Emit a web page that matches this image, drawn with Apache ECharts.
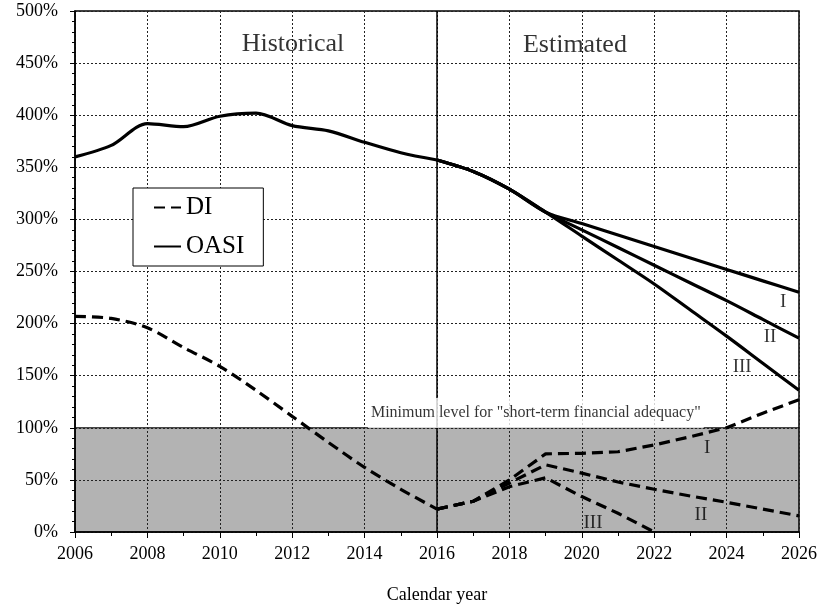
<!DOCTYPE html>
<html>
<head>
<meta charset="utf-8">
<script src="https://cdn.jsdelivr.net/npm/echarts@6/dist/echarts.min.js"></script>
<style>
  html, body { margin: 0; background: #fff; }
  #chart { width: 817px; height: 609px; }
</style>
</head>
<body>
<div id="chart"></div>
<script>
// Values (percent of a year's cost)
const histYears = [2006, 2007, 2008, 2009, 2010, 2011, 2012, 2013, 2014, 2015, 2016]
const oasiHist = [360, 371, 392, 389, 399, 402, 390, 385, 374, 364, 357]
const diHist = [207, 205, 196, 177, 159, 136, 111, 86, 62, 41, 22]

const projYears = [2016, 2017, 2018, 2019, 2020, 2021, 2022, 2023, 2024, 2025, 2026]
const oasiI = [357, 346, 329, 307, 296, 285, 274, 263, 252, 241, 230]
const oasiII = [357, 346, 329, 307, 290, 273, 256, 239, 222, 204, 186]
const oasiIII = [357, 346, 329, 307, 284, 261, 238, 213, 188, 162, 136]
const diI = [22, 29.5, 50, 75, 75.5, 77, 83.5, 91.5, 100, 114, 127]
const diII = [22, 29.5, 47, 64.5, 56.5, 48, 41, 34.5, 28.5, 22, 15.5]
const diIII = [22, 29.5, 43.5, 52, 34, 18, 0]

const minimumLevel = 100
const xTicks = { min: 2006, max: 2026, step: 2 }
const yTicks = { min: 0, max: 500, step: 50 }

const FONT = "Liberation Serif"
const pairs = (years, values) => values.map((v, i) => [years[i], v])

const oasiLine = { color: "#000", width: 3.2, type: "solid" }
const diLine = { color: "#000", width: 3.2, type: [11, 6] }

function lineSeries(name, data, lineStyle, smooth) {
  return {
    name, type: "line", data, smooth, symbol: "none",
    lineStyle, itemStyle: { color: "#000" }, z: 3, silent: true
  }
}

function note(text, x, y, size, extra = {}) {
  return {
    value: [x, y],
    label: Object.assign({
      show: true, position: "inside", formatter: text,
      color: "#000", fontFamily: FONT, fontSize: size
    }, extra)
  }
}

const chart = echarts.init(document.getElementById("chart"), null, { renderer: "canvas" })

chart.setOption({
  animation: false,
  backgroundColor: "#fff",
  grid: {
    left: 75, right: 18, top: 11, bottom: 77,
    outerBoundsMode: "none", containLabel: false,
    show: true, borderColor: "#000", borderWidth: 1.5
  },
  legend: {
    data: ["DI", "OASI"],
    orient: "vertical",
    left: 133, top: 188,
    padding: [7, 19, 7, 20],
    itemGap: 14,
    itemWidth: 27, itemHeight: 14,
    itemTextGap: 4,
    itemStyle: { opacity: 0 },
    backgroundColor: "#fff",
    borderColor: "#000", borderWidth: 1,
    textStyle: { fontFamily: FONT, fontSize: 25, color: "#000" },
    selectedMode: false
  },
  xAxis: {
    type: "value",
    min: xTicks.min, max: xTicks.max, interval: xTicks.step,
    name: "Calendar year", nameLocation: "middle", nameGap: 54,
    nameTextStyle: { fontFamily: FONT, fontSize: 18, color: "#000" },
    axisLine: { show: true, lineStyle: { color: "#000", width: 1.5 } },
    axisTick: { show: true, length: 6, lineStyle: { color: "#000" } },
    minorTick: { show: true, splitNumber: 2, length: 4, lineStyle: { color: "#000" } },
    axisLabel: { fontFamily: FONT, fontSize: 18, color: "#000", margin: 13, formatter: (v) => String(v) },
    splitLine: { show: true, lineStyle: { color: "#222", width: 1, type: [2, 2] } }
  },
  yAxis: {
    type: "value",
    min: yTicks.min, max: yTicks.max, interval: yTicks.step,
    axisLine: { show: true, lineStyle: { color: "#000", width: 1.5 } },
    axisTick: { show: true, length: 5, lineStyle: { color: "#000" } },
    minorTick: { show: true, splitNumber: 5, length: 3, lineStyle: { color: "#000" } },
    axisLabel: { fontFamily: FONT, fontSize: 18, color: "#000", margin: 17, formatter: "{value}%" },
    splitLine: { show: true, lineStyle: { color: "#222", width: 1, type: [2, 2] } }
  },
  series: [
    {
      // shaded band below the adequacy threshold
      name: "band", type: "line", symbol: "none", silent: true, z: -1,
      data: [[xTicks.min, minimumLevel], [xTicks.max, minimumLevel]],
      lineStyle: { color: "#000", width: 1 },
      areaStyle: { color: "#b3b3b3", opacity: 1 }
    },
    Object.assign(lineSeries("DI", pairs(histYears, diHist), diLine, 0.3), {
      markLine: {
        silent: true, symbol: "none", label: { show: false },
        lineStyle: { color: "#000", width: 1.5, type: "solid" },
        data: [{ xAxis: 2016 }]
      }
    }),
    lineSeries("OASI", pairs(histYears, oasiHist), oasiLine, 0.3),
    lineSeries("OASI", pairs(projYears, oasiI), oasiLine, 0.3),
    lineSeries("OASI", pairs(projYears, oasiII), oasiLine, 0.3),
    lineSeries("OASI", pairs(projYears, oasiIII), oasiLine, 0.3),
    lineSeries("DI", pairs(projYears, diI), diLine, false),
    lineSeries("DI", pairs(projYears, diII), diLine, false),
    lineSeries("DI", pairs(projYears.slice(0, diIII.length), diIII), diLine, false),
    {
      // text notes sit on their own layer so the white box hides the lines behind it
      name: "notes", type: "scatter", symbolSize: 0, silent: true, z: 10, zlevel: 1,
      data: [
        note("Historical", 2012.02, 468, 26),
        note("Estimated", 2019.81, 467, 26),
        note("I", 2025.56, 221, 19),
        note("II", 2025.2, 187, 19),
        note("III", 2024.43, 158, 19),
        note("I", 2023.46, 80.6, 19),
        note("II", 2023.29, 16.3, 19),
        note("III", 2020.31, 8.6, 19),
        note("Minimum level for \"short-term financial adequacy\"", 2018.73, 114.2, 16,
          { backgroundColor: "#fff", padding: [7, 3, 7, 3], lineHeight: 16 })
      ]
    }
  ]
})
</script>
</body>
</html>
